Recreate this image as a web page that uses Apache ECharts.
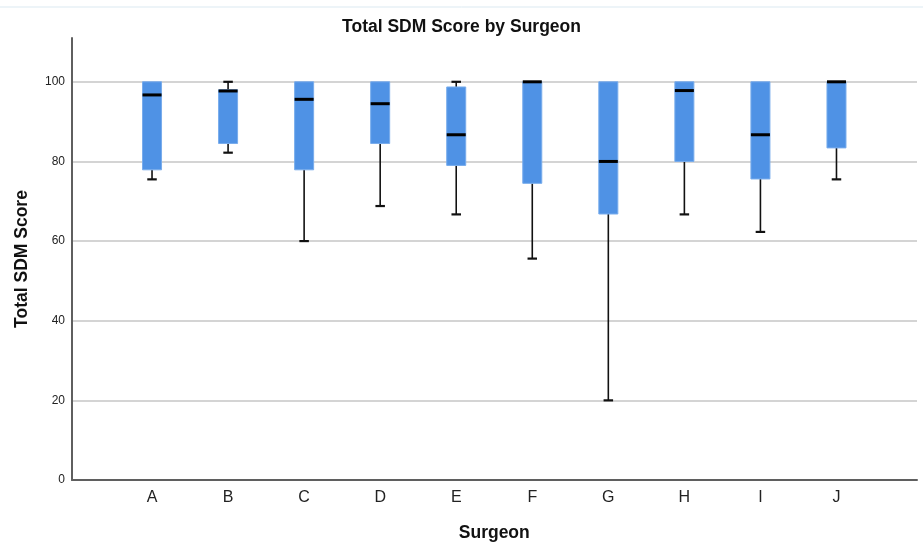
<!DOCTYPE html>
<html>
<head>
<meta charset="utf-8">
<script src="https://cdn.jsdelivr.net/npm/echarts@6/dist/echarts.min.js"></script>
<style>html,body{margin:0;padding:0;background:#fff;}#c{width:923px;height:542px;}</style>
</head>
<body>
<div id="c"></div>
<script>
const categories = ['A', 'B', 'C', 'D', 'E', 'F', 'G', 'H', 'I', 'J'];
const minVals    = [75.5, 82.2, 60.0, 68.8, 66.7, 55.6, 20.0, 66.7, 62.3, 75.5];
const q1Vals     = [77.9, 84.5, 77.9, 84.5, 79.0, 74.5, 66.8, 80.0, 75.6, 83.4];
const medianVals = [96.7, 97.7, 95.6, 94.5, 86.7, 100, 80.0, 97.8, 86.7, 100];
const q3Vals     = [100, 98.0, 100, 100, 98.7, 100, 100, 100, 100, 100];
const maxVals    = [100, 100, 100, 100, 100, 100, 100, 100, 100, 100];
const yTicks = [0, 20, 40, 60, 80, 100];

const data = categories.map((c, i) => [i, minVals[i], q1Vals[i], medianVals[i], q3Vals[i], maxVals[i]]);
const FONT = 'Liberation Sans, Arial, sans-serif';

function renderItem(params, api) {
  const idx = api.value(0);
  const pLo = api.coord([idx, api.value(1)]);
  const pQ1 = api.coord([idx, api.value(2)]);
  const pMed = api.coord([idx, api.value(3)]);
  const pQ3 = api.coord([idx, api.value(4)]);
  const pHi = api.coord([idx, api.value(5)]);
  const cx = pQ1[0];
  const bw = api.size([1, 0])[0] * 0.25;
  const cw = bw * 0.5;
  const children = [];
  const wStyle = { stroke: '#111', lineWidth: 1.6 };
  if (api.value(1) < api.value(2)) {
    children.push({ type: 'line', shape: { x1: cx, y1: pQ1[1], x2: cx, y2: pLo[1] }, style: wStyle });
    children.push({ type: 'line', shape: { x1: cx - cw / 2, y1: pLo[1], x2: cx + cw / 2, y2: pLo[1] }, style: { stroke: '#111', lineWidth: 2.2 } });
  }
  if (api.value(5) > api.value(4)) {
    children.push({ type: 'line', shape: { x1: cx, y1: pQ3[1], x2: cx, y2: pHi[1] }, style: wStyle });
    children.push({ type: 'line', shape: { x1: cx - cw / 2, y1: pHi[1], x2: cx + cw / 2, y2: pHi[1] }, style: { stroke: '#111', lineWidth: 2.2 } });
  }
  children.push({ type: 'rect', shape: { x: cx - bw / 2, y: pQ3[1], width: bw, height: pQ1[1] - pQ3[1] },
    style: { fill: '#4f92e5', stroke: '#78acec', lineWidth: 1 } });
  children.push({ type: 'line', shape: { x1: cx - bw / 2, y1: pMed[1], x2: cx + bw / 2, y2: pMed[1] },
    style: { stroke: '#000', lineWidth: 3 } });
  return { type: 'group', children };
}

const chart = echarts.init(document.getElementById('c'), null, { renderer: 'canvas' });
chart.setOption({
  backgroundColor: '#fff',
  animation: false,
  title: {
    text: 'Total SDM Score by Surgeon',
    left: 'center', top: 13,
    textStyle: { fontFamily: FONT, fontSize: 17.5, fontWeight: 'bold', color: '#111' }
  },
  graphic: [{
    type: 'line', shape: { x1: 0, y1: 7, x2: 923, y2: 7 }, style: { stroke: '#dbe9f1', lineWidth: 1 }, silent: true
  }],
  grid: [
    { left: 72, right: 6, top: 38, bottom: 62, containLabel: false, outerBoundsMode: 'none' },
    { left: 114, right: 48.5, top: 38, bottom: 62, containLabel: false, outerBoundsMode: 'none' }
  ],
  xAxis: [
    { gridIndex: 0, type: 'value', min: 0, max: 1, axisLabel: { show: false }, axisTick: { show: false },
      splitLine: { show: false }, axisLine: { show: true, lineStyle: { color: '#5f5f5f', width: 2 } } },
    { gridIndex: 1, type: 'category', data: categories, boundaryGap: true,
      axisLine: { show: false }, axisTick: { show: false },
      axisLabel: { margin: 10, fontFamily: FONT, fontSize: 16, color: '#222' },
      name: 'Surgeon', nameLocation: 'middle', nameGap: 44,
      nameTextStyle: { fontFamily: FONT, fontSize: 17.5, fontWeight: 'bold', color: '#111' } }
  ],
  yAxis: [
    { gridIndex: 0, type: 'value', min: 0, max: 111, interval: 20,
      axisLine: { show: true, lineStyle: { color: '#5f5f5f', width: 2 } }, axisTick: { show: false },
      axisLabel: { showMaxLabel: false, margin: 7, fontFamily: FONT, fontSize: 12, color: '#222',
        formatter: v => (yTicks.indexOf(v) >= 0 ? String(v) : '') },
      splitLine: { show: true, showMinLine: false, showMaxLine: false, lineStyle: { color: '#c6c6c6', width: 1.5 } },
      name: 'Total SDM Score', nameLocation: 'middle', nameGap: 41,
      nameTextStyle: { fontFamily: FONT, fontSize: 17.5, fontWeight: 'bold', color: '#111' } },
    { gridIndex: 1, type: 'value', min: 0, max: 111, show: false, splitLine: { show: false } }
  ],
  series: [{
    type: 'custom', xAxisIndex: 1, yAxisIndex: 1,
    renderItem: renderItem,
    encode: { x: 0, y: [1, 2, 3, 4, 5] },
    data: data
  }]
});
</script>
</body>
</html>
